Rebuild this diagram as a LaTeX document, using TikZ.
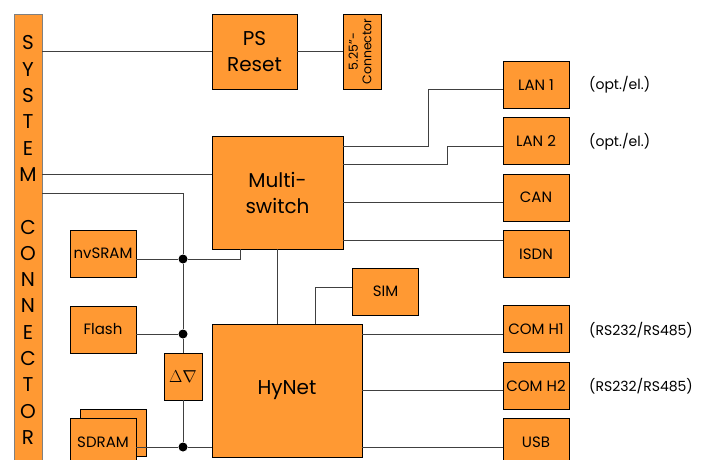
\documentclass[tikz,border=0pt]{standalone}
\usepackage{fontspec}
\setmainfont{Poppins}
\usetikzlibrary{positioning}
\definecolor{boxorange}{RGB}{255,153,51}

\tikzset{
  blk/.style={draw=black, fill=boxorange, line width=0.9pt, align=center, inner sep=0pt,
    minimum width=66pt, minimum height=47pt, font=\fontsize{15}{18}\selectfont},
  bigblk/.style={blk, font=\fontsize{20}{26}\selectfont},
  wire/.style={draw=black!75, line width=1pt},
  junc/.style={circle, fill=black, inner sep=0pt, minimum size=9pt},
  note/.style={anchor=west, inner sep=0pt, font=\fontsize{14}{17}\selectfont}
}

\begin{document}
\begin{tikzpicture}[x=1pt,y=-1pt]
\useasboundingbox (0,0) rectangle (704,460);
\clip (0,0) rectangle (704,460);

% system connector bar
\node[blk, draw=black!50, minimum width=28pt, minimum height=460pt] (sys) at (28,244) {};
\foreach \l [count=\i from 0] in {S,Y,S,T,E,M}
  \node[font=\fontsize{20}{24}\selectfont, inner sep=0pt] at (28,43+26.3*\i) {\l};
\foreach \l [count=\i from 7] in {C,O,N,N,E,C,T,O,R}
  \node[font=\fontsize{20}{24}\selectfont, inner sep=0pt] at (28,43+26.3*\i) {\l};

% main blocks
\node[bigblk, minimum width=85pt, minimum height=75pt] (psreset) at (254.5,51.5) {PS\\Reset};
\node[blk, minimum width=38pt, minimum height=75pt, font=\fontsize{12.5}{13.5}\selectfont] (conn) at (362,51.5)
  {\rotatebox{90}{\begin{tabular}{@{}c@{}}5.25"-\\Connector\end{tabular}}};
\node[bigblk, minimum width=131pt, minimum height=113pt] (multi) at (277.5,192.5) {Multi-\\switch};
\node[bigblk, minimum width=150pt, minimum height=133pt] (hynet) at (287,390.5) {HyNet};
\node[blk] (sim) at (385.5,291.5) {SIM};

% memory
\node[blk] (nvsram) at (103,253.5) {nvSRAM};
\node[blk] (flash) at (103,329.5) {Flash};
\node[blk, minimum width=38pt, font=\fontsize{19}{22}\selectfont] (delta) at (183,376.5) {$\Delta\nabla$};
\node[blk] (sdramb) at (113,432.5) {};
\node[blk] (sdram) at (103,442) {SDRAM};

% interfaces
\node[blk] (lan1) at (536,84.7) {LAN 1};
\node[blk] (lan2) at (536,141) {LAN 2};
\node[blk] (can) at (536,197.5) {CAN};
\node[blk] (isdn) at (536,254.2) {ISDN};
\node[blk] (comh1) at (536,329) {COM H1};
\node[blk] (comh2) at (536,385.7) {COM H2};
\node[blk] (usb) at (536,442.3) {USB};

\node[note] (n1) at (589,85) {(opt./el.)};
\node[note] (n2) at (589,142) {(opt./el.)};
\node[note] (n3) at (589,330) {(RS232/RS485)};
\node[note] (n4) at (589,386) {(RS232/RS485)};

% bus junctions
\node[junc] (j1) at (183,259) {};
\node[junc] (j2) at (183,334) {};
\node[junc] (j3) at (183,447) {};
\coordinate (tap) at (240,259);
\coordinate (simtap) at (315,324);

% connections
\draw[wire] (sys.east |- psreset) -- (psreset);
\draw[wire] (psreset) -- (conn);
\draw[wire] (sys.east |- 0,174) -- (multi.west |- 0,174);
\draw[wire] (sys.east |- 0,193) -| (j1) -- (j2) -- (delta);
\draw[wire] (delta) -- (j3);
\draw[wire] (nvsram.east |- j1) -- (j1) -- (tap) -- (tap |- multi.south);
\draw[wire] (flash.east |- j2) -- (j2);
\draw[wire] (sdram.east |- j3) -- (j3) -- (hynet.west |- j3);
\draw[wire] (multi.south) -- (multi.south |- hynet.north);
\draw[wire] (sim.west |- 0,287) -| (simtap);

\draw[wire] (multi.east |- 0,146) -| (428,89) -- (lan1.west |- 0,89);
\draw[wire] (multi.east |- 0,164) -| (447,146) -- (lan2.west |- 0,146);
\draw[wire] (multi.east |- 0,202) -- (can.west |- 0,202);
\draw[wire] (multi.east |- 0,240) -- (isdn.west |- 0,240);
\draw[wire] (hynet.east |- 0,334) -- (comh1.west |- 0,334);
\draw[wire] (hynet.east |- 0,390) -- (comh2.west |- 0,390);
\draw[wire] (hynet.east |- 0,447) -- (usb.west |- 0,447);
\end{tikzpicture}
\end{document}
